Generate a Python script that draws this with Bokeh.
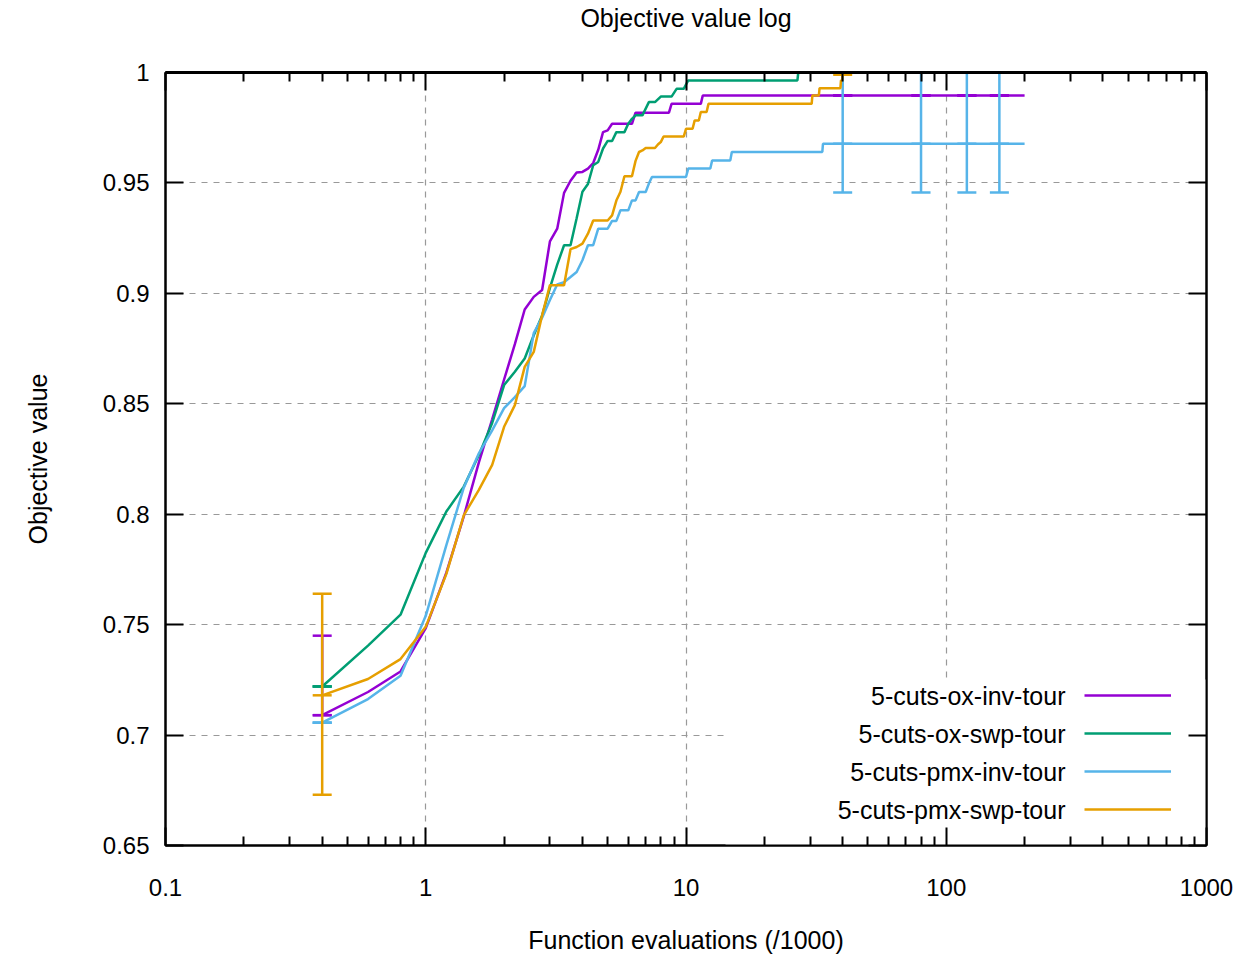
from bokeh.plotting import figure
from bokeh.models import (Range1d, LogAxis, LinearAxis, FixedTicker, CustomJSTickFormatter,
                          Legend, LegendItem, BoxAnnotation, Label)
from bokeh.core.properties import value
from bokeh.embed import file_html
from bokeh.resources import INLINE

FONT = "Liberation Sans"

# ---------------- data ----------------
chart_title = "Objective value log"
series_names = ["5-cuts-ox-inv-tour", "5-cuts-ox-swp-tour", "5-cuts-pmx-inv-tour", "5-cuts-pmx-swp-tour"]
series_colors = ["#9400d3", "#009e73", "#56b4e9", "#e69f00"]

ox_inv_x = [0.4, 0.6, 0.8, 1.0, 1.2, 1.4, 1.6, 1.8, 2.0, 2.2, 2.4, 2.6, 2.8, 3.0, 3.2, 3.4, 3.6, 3.8,
            4.0, 4.2, 4.4, 4.6, 4.8, 5.0, 5.2, 6.2, 6.4, 8.6, 8.8, 11.4, 11.6, 200]
ox_inv_y = [0.709, 0.7195, 0.7288, 0.7484, 0.7735, 0.799, 0.8235, 0.843, 0.861, 0.877, 0.8927, 0.8984,
            0.9015, 0.9235, 0.9293, 0.9455, 0.951, 0.9547, 0.955, 0.9565, 0.959, 0.965, 0.973, 0.9738,
            0.9768, 0.9768, 0.9818, 0.9818, 0.9858, 0.9858, 0.9896, 0.9896]

ox_swp_x = [0.4, 0.6, 0.8, 1.0, 1.2, 1.4, 1.6, 1.8, 2.0, 2.2, 2.4, 2.6, 2.8, 3.0, 3.2, 3.4, 3.6, 3.8,
            4.0, 4.2, 4.4, 4.6, 4.8, 5.0, 5.2, 5.4, 5.8, 6.0, 6.2, 6.4, 6.8, 7.2, 7.6, 8.0, 8.8, 9.2,
            9.8, 10.2, 26.8, 27.0, 200]
ox_swp_y = [0.722, 0.7405, 0.7545, 0.7825, 0.8012, 0.8125, 0.8268, 0.8413, 0.8585, 0.8645, 0.8705,
            0.881, 0.890, 0.9025, 0.913, 0.9218, 0.9218, 0.934, 0.946, 0.9495, 0.958, 0.9595, 0.9656,
            0.969, 0.969, 0.973, 0.973, 0.9768, 0.979, 0.9806, 0.9806, 0.9866, 0.9866, 0.9891, 0.9891,
            0.9926, 0.9926, 0.9964, 0.9964, 1.0, 1.0]

pmx_inv_x = [0.4, 0.6, 0.8, 1.0, 1.2, 1.4, 1.6, 1.8, 2.0, 2.2, 2.4, 2.6, 2.8, 3.0, 3.2, 3.4, 3.6, 3.8,
             4.0, 4.2, 4.4, 4.6, 5.0, 5.2, 5.4, 5.6, 6.0, 6.2, 6.4, 6.6, 7.0, 7.2, 7.4, 10.0, 10.2,
             12.4, 12.6, 14.8, 15.0, 33.4, 33.6, 200]
pmx_inv_y = [0.7056, 0.7163, 0.7269, 0.754, 0.786, 0.812, 0.8276, 0.838, 0.848, 0.853, 0.858, 0.882,
             0.889, 0.897, 0.904, 0.905, 0.9074, 0.9097, 0.915, 0.9218, 0.9218, 0.9293, 0.9293, 0.9328,
             0.9328, 0.9376, 0.9376, 0.9421, 0.9421, 0.9459, 0.9459, 0.9497, 0.9527, 0.9527, 0.9565,
             0.9565, 0.9602, 0.9602, 0.964, 0.964, 0.9677, 0.9677]

pmx_swp_x = [0.4, 0.6, 0.8, 1.0, 1.2, 1.4, 1.6, 1.8, 2.0, 2.2, 2.4, 2.6, 2.8, 3.0, 3.4, 3.6, 3.8, 4.0,
             4.2, 4.4, 5.0, 5.2, 5.4, 5.6, 5.8, 6.2, 6.4, 6.6, 6.8, 7.0, 7.6, 7.8, 8.0, 8.2, 9.8, 10.0,
             10.6, 10.8, 11.2, 11.4, 12.0, 12.2, 30.4, 30.6, 32.4, 32.6, 39.2, 39.4, 39.8, 40.0, 200]
pmx_swp_y = [0.718, 0.7254, 0.7344, 0.749, 0.773, 0.7995, 0.811, 0.8223, 0.8396, 0.8494, 0.8667,
             0.8735, 0.8901, 0.9037, 0.9037, 0.920, 0.921, 0.9225, 0.927, 0.933, 0.933, 0.9353, 0.942,
             0.946, 0.953, 0.953, 0.960, 0.964, 0.9647, 0.9658, 0.9658, 0.9674, 0.9685, 0.971, 0.971,
             0.9745, 0.9745, 0.9783, 0.9783, 0.9821, 0.9821, 0.9858, 0.9858, 0.9896, 0.9896, 0.9929,
             0.9929, 0.9964, 0.9964, 1.0, 1.0]

# error bars (x, mean, low, high) per series
err_x = [0.4, 40, 80, 120, 160]
ox_inv_mean = [0.709, 0.9896, 0.9896, 0.9896, 0.9896]
ox_inv_low = [0.709, 0.9896, 0.9896, 0.9896, 0.9896]
ox_inv_high = [0.745, 0.9896, 0.9896, 0.9896, 0.9896]
ox_swp_mean = [0.722, 1.0, 1.0, 1.0, 1.0]
ox_swp_low = [0.722, 1.0, 1.0, 1.0, 1.0]
ox_swp_high = [0.722, 1.0045, 1.0045, 1.0045, 1.0045]
pmx_inv_mean = [0.7056, 0.9677, 0.9677, 0.9677, 0.9677]
pmx_inv_low = [0.7056, 0.9457, 0.9457, 0.9457, 0.9457]
pmx_inv_high = [0.7056, 1.0, 1.0, 1.0, 1.0]
pmx_swp_mean = [0.718, 1.0, 1.0, 1.0, 1.0]
pmx_swp_low = [0.673, 0.999, 1.0, 1.0, 1.0]
pmx_swp_high = [0.764, 1.0045, 1.0045, 1.0045, 1.0045]

x_tick_values = [0.1, 1, 10, 100, 1000]
y_tick_values = [0.65, 0.7, 0.75, 0.8, 0.85, 0.9, 0.95, 1.0]

lines = [(ox_inv_x, ox_inv_y), (ox_swp_x, ox_swp_y), (pmx_inv_x, pmx_inv_y), (pmx_swp_x, pmx_swp_y)]
errs = [(ox_inv_mean, ox_inv_low, ox_inv_high), (ox_swp_mean, ox_swp_low, ox_swp_high),
        (pmx_inv_mean, pmx_inv_low, pmx_inv_high), (pmx_swp_mean, pmx_swp_low, pmx_swp_high)]

LW = 2.5

# ---------------- figure ----------------
p = figure(width=1247, height=956, x_axis_type="log",
           x_range=Range1d(0.1, 1000), y_range=Range1d(0.65, 1.0),
           output_backend="svg", toolbar_location=None,
           min_border_left=165, min_border_right=41, min_border_top=72, min_border_bottom=110)
p.background_fill_color = "white"
p.border_fill_color = "white"
p.outline_line_color = "black"
p.outline_line_width = 2

minor_x = [m * 10.0 ** e for e in range(-1, 3) for m in range(2, 10)]
xticker = FixedTicker(ticks=x_tick_values, minor_ticks=minor_x)
yticker = FixedTicker(ticks=y_tick_values)
xfmt = CustomJSTickFormatter(code="return tick.toString();")
yfmt = CustomJSTickFormatter(code="return String(parseFloat(tick.toFixed(2)));")
blankfmt = CustomJSTickFormatter(code="return '';")


def style_axis(ax, show_labels):
    ax.axis_line_width = 2
    ax.axis_line_color = "black"
    ax.major_tick_in = 18
    ax.major_tick_out = 0
    ax.minor_tick_in = 9
    ax.minor_tick_out = 0
    ax.major_tick_line_width = 2
    ax.minor_tick_line_width = 2
    ax.major_tick_line_color = "black"
    ax.minor_tick_line_color = "black"
    ax.major_label_text_font = FONT
    ax.major_label_text_color = "black"
    ax.major_label_text_font_size = "24px"
    ax.axis_label_text_font = FONT
    ax.axis_label_text_font_size = "25px"
    ax.axis_label_text_font_style = "normal"
    ax.axis_label_text_color = "black"
    if not show_labels:
        ax.formatter = blankfmt
        ax.major_label_standoff = 0


xa = p.xaxis[0]
xa.ticker = xticker
xa.formatter = xfmt
style_axis(xa, True)
xa.major_label_standoff = 33
xa.axis_label = "Function evaluations (/1000)"
xa.axis_label_standoff = 27

ya = p.yaxis[0]
ya.ticker = yticker
ya.formatter = yfmt
style_axis(ya, True)
ya.minor_tick_in = 0
ya.major_label_standoff = 16
ya.axis_label = "Objective value"
ya.axis_label_standoff = 48

# mirrored top axis; it also carries the chart title (placed like gnuplot's)
top_ax = LogAxis(ticker=xticker)
style_axis(top_ax, False)
top_ax.axis_line_width = 3
top_ax.axis_label = chart_title
top_ax.axis_label_standoff = 41
p.add_layout(top_ax, "above")
right_ax = LinearAxis(ticker=yticker)
style_axis(right_ax, False)
right_ax.minor_tick_in = 0
p.add_layout(right_ax, "right")

for g in (p.xgrid[0], p.ygrid[0]):
    g.grid_line_color = "#999999"
    g.grid_line_dash = "6 6"
    g.grid_line_width = 1.2
p.xgrid[0].ticker = xticker
p.ygrid[0].ticker = yticker

# white key area hiding the grid (like gnuplot's opaque key)
key_box = BoxAnnotation(left=560, top=166, left_units="screen", top_units="screen",
                        fill_color="white", fill_alpha=1.0, line_color=None, level="underlay")
p.add_layout(key_box)

renderers = []
for (xs, ys), (mn, lo, hi), col in zip(lines, errs, series_colors):
    r = p.line(xs, ys, line_color=col, line_width=LW)
    p.segment(x0=err_x, y0=lo, x1=err_x, y1=hi, line_color=col, line_width=LW)
    for vals in (lo, hi, mn):
        p.scatter(err_x, vals, marker="dash", size=19, line_color=col, line_width=LW)
    renderers.append(r)

# key: right-aligned texts, line samples to their right (gnuplot style)
glyph_legend = Legend(
    items=[LegendItem(label=value(" "), renderers=[r]) for r in renderers],
    location=(919, 17), glyph_width=87, glyph_height=38, label_height=38, label_standoff=0,
    padding=0, spacing=0, margin=0,
    label_text_font=FONT, label_text_font_size="25px",
    background_fill_alpha=0, border_line_alpha=0)
p.add_layout(glyph_legend)

for i, name in enumerate(series_names):
    p.add_layout(Label(x=900, y=150 - 38 * i, x_units="screen", y_units="screen", text=name,
                       text_align="right", text_baseline="middle", text_font=FONT,
                       text_font_size="25px", text_color="black"))

open("out.html", "w").write(file_html(p, INLINE))
